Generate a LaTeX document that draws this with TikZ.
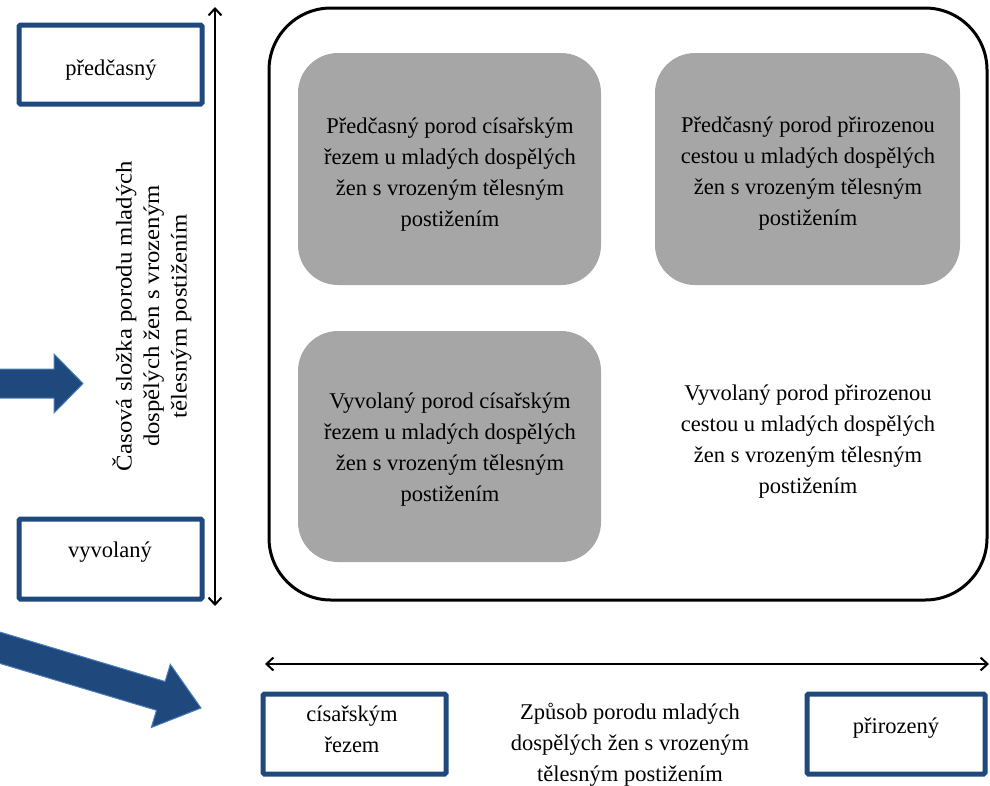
\documentclass[tikz,border=0pt]{standalone}
\usepackage{fontspec}
\setmainfont{Liberation Serif}
\usetikzlibrary{arrows.meta}
\definecolor{navy}{HTML}{1F497D}
\definecolor{navyedge}{HTML}{4A7EBB}
\definecolor{cellgray}{HTML}{A6A6A6}
\tikzset{
  x=1pt, y=-1pt,
  txt/.style={align=center, font=\fontsize{22.5}{31}\selectfont, inner sep=0pt},
  cell/.style={fill=cellgray, rounded corners=40pt},
  tag/.style={draw=navy, line width=5pt, rounded corners=1.5pt},
  axis/.style={line width=2.2pt, {Straight Barb[length=7pt,width=13pt,line width=2pt]}-{Straight Barb[length=7pt,width=13pt,line width=2pt]}},
  block/.style={fill=navy, draw=navyedge, line width=1pt, line join=miter}
}
\begin{document}
\begin{tikzpicture}
\useasboundingbox (0,0) rectangle (990,785);

% outer frame
\draw[line width=3pt, rounded corners=62pt] (269,8) rectangle (987,600);

% quadrant cells
\fill[cell] (298,53) rectangle (601,285);
\fill[cell] (655,53) rectangle (960,285);
\fill[cell] (298,331) rectangle (601,562);

\node[txt] (q1) at (450,175) {Předčasný porod císařským\\řezem u mladých dospělých\\žen s vrozeným tělesným\\postižením};
\node[txt] (q2) at (808,174) {Předčasný porod přirozenou\\cestou u mladých dospělých\\žen s vrozeným tělesným\\postižením};
\node[txt] (q3) at (450,450) {Vyvolaný porod císařským\\řezem u mladých dospělých\\žen s vrozeným tělesným\\postižením};
\node[txt] (q4) at (808,442) {Vyvolaný porod přirozenou\\cestou u mladých dospělých\\žen s vrozeným tělesným\\postižením};

% vertical axis: timing
\coordinate (vtop) at (215,7);
\coordinate (vbot) at (215,606);
\draw[axis] (vbot) -- (vtop);
\node[txt, font=\fontsize{22.5}{27.5}\selectfont, rotate=90, xscale=1.1] (vlabel) at (152,316) {Časová složka porodu mladých\\dospělých žen s vrozeným\\tělesným postižením};

\draw[tag] (19,25) rectangle (202,104);
\node[txt] (early) at (111,70) {předčasný};
\draw[tag] (19,519) rectangle (202,599);
\node[txt] (induced) at (110,552) {vyvolaný};

% horizontal axis: delivery mode
\coordinate (hleft) at (265,664);
\coordinate (hright) at (989,664);
\draw[axis] (hleft) -- (hright);

\draw[tag] (263,694) rectangle (446,774);
\node[txt] (cs) at (352,729) {císařským\\řezem};
\draw[tag] (807,694) rectangle (985,774);
\node[txt] (nat) at (896,728) {přirozený};
\node[txt] (hlabel) at (630,745) {Způsob porodu mladých\\dospělých žen s vrozeným\\tělesným postižením};

% block arrows
\draw[block] (-5,369) -- (54,369) -- (54,354) -- (83,383.5) -- (54,413) -- (54,398) -- (-5,398) -- cycle;
\draw[block] (-2.6,631.3) -- (165.1,681.5) -- (170.3,664.3) -- (201,708) -- (151.3,727.5) -- (156.5,710.3) -- (-11.2,660.1) -- cycle;
\end{tikzpicture}
\end{document}
